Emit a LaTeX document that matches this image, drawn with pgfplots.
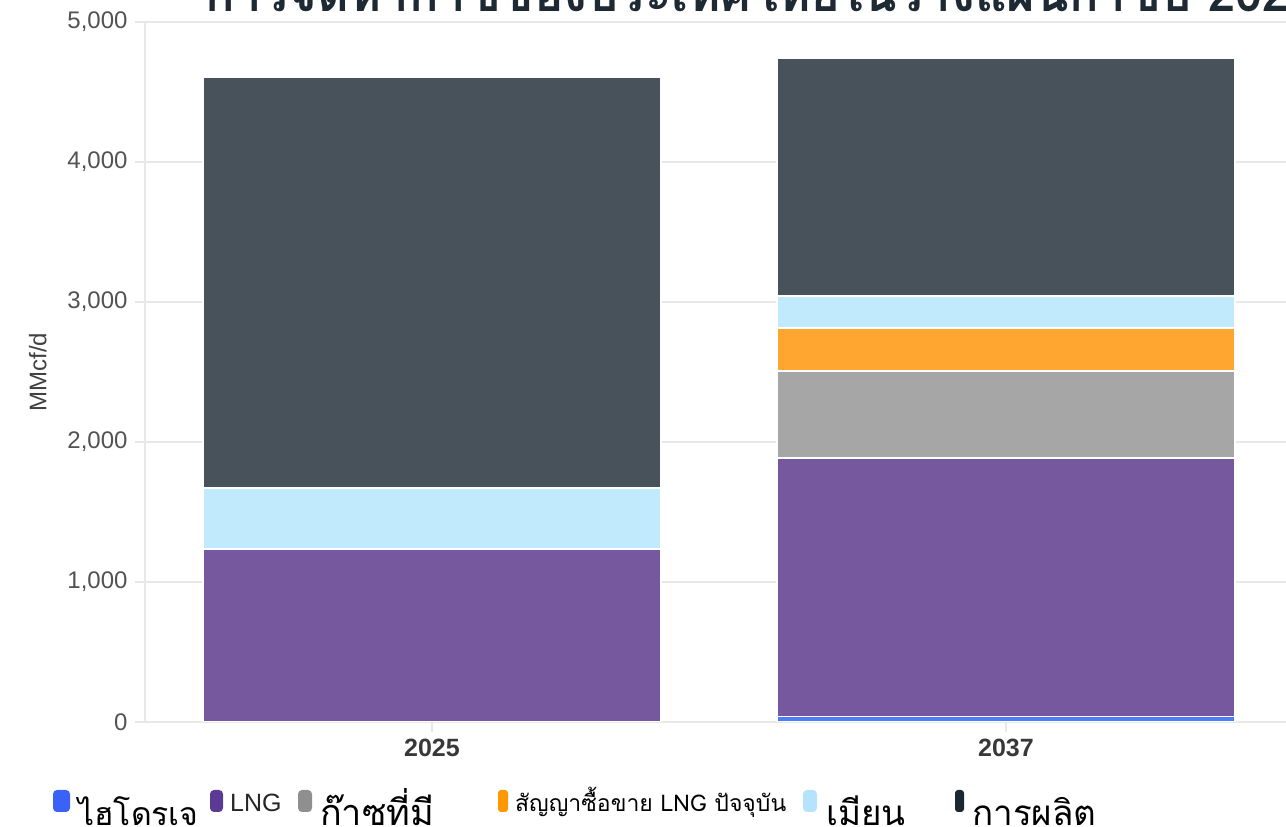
\documentclass[border=0pt]{standalone}
\usepackage{pgfplots}
\pgfplotsset{compat=1.18}
\usepackage{fontspec}
\setmainfont{Liberation Sans}
\newfontfamily\thaifont[Script=Thai]{Loma}
\definecolor{cprod}{HTML}{48525B}
\definecolor{cmya}{HTML}{C2EAFD}
\definecolor{clng}{HTML}{76589F}
\definecolor{cgas}{HTML}{A6A6A6}
\definecolor{ccon}{HTML}{FFA630}
\definecolor{chyd}{HTML}{4D7EF7}
\definecolor{lhyd}{HTML}{3B62F6}
\definecolor{llng}{HTML}{5B3A94}
\definecolor{lgas}{HTML}{8F8F8F}
\definecolor{lcon}{HTML}{FF9800}
\definecolor{lmya}{HTML}{B5E3FB}
\definecolor{lprod}{HTML}{1C2831}
\definecolor{gridc}{HTML}{E8E8E8}
\definecolor{titlec}{HTML}{1E2A33}
\begin{document}
\begin{tikzpicture}[x=1pt,y=1pt]
\useasboundingbox (0,0) rectangle (1286,827);
\begin{axis}[
  at={(145pt,105pt)}, anchor=south west,
  scale only axis, width=1148pt, height=700pt,
  xmin=-0.5, xmax=1.5, ymin=0, ymax=5000,
  ybar stacked, bar width=458pt,
  axis x line*=bottom, axis y line*=left,
  axis line style={draw=gridc, line width=1.5pt},
  ymajorgrids, grid style={draw=gridc, line width=1.5pt},
  ytick={0,1000,2000,3000,4000,5000},
  xtick={0,1}, xticklabels={2025,2037},
  tick align=outside, major tick length=10pt,
  tick style={draw=gridc, line width=1.2pt},
  yticklabel style={font=\fontsize{24}{24}\selectfont, text=black!68, xshift=-4pt},
  xticklabel style={font=\fontsize{25}{25}\selectfont\bfseries, text=black!78, yshift=-4pt},
  /pgf/number format/.cd, 1000 sep={,}, assume math mode=true, /pgfplots/.cd,
  ylabel={MMcf/d}, ylabel shift=14pt,
  ylabel style={font=\fontsize{24}{24}\selectfont, text=black!75},
  every axis plot/.append style={draw=white, line width=1.5pt},
]
\addplot[fill=chyd] coordinates {(0,0) (1,40)};
\addplot[fill=clng] coordinates {(0,1236) (1,1846)};
\addplot[fill=cgas] coordinates {(0,0) (1,621)};
\addplot[fill=ccon] coordinates {(0,0) (1,307)};
\addplot[fill=cmya] coordinates {(0,435) (1,229)};
\addplot[fill=cprod] coordinates {(0,2936) (1,1700)};
\end{axis}
% title (cut by the page top)
\node[anchor=base west, inner sep=0pt, text=titlec, font=\thaifont\bfseries\fontsize{49}{49}\selectfont] at (205,815) {การจัดหาก๊าซของประเทศไทยในร่างแผนก๊าซปี 2025};
% legend
\fill[lhyd, rounded corners=4pt] (53,15) rectangle (70,37);
\node[anchor=base west, inner sep=0pt, font=\thaifont\fontsize{32}{32}\selectfont] at (78,1) {ไฮโดรเจ};
\fill[llng, rounded corners=4pt] (210,15) rectangle (223,37);
\node[anchor=base west, inner sep=0pt, font=\fontsize{25}{25}\selectfont, text=black!85] at (230,15) {LNG};
\fill[lgas, rounded corners=4pt] (298,15) rectangle (312,37);
\node[anchor=base west, inner sep=0pt, font=\thaifont\fontsize{36}{36}\selectfont] at (320,1) {ก๊าซที่มี};
\fill[lcon, rounded corners=3pt] (498,15) rectangle (508,37);
\node[anchor=base west, inner sep=0pt, font=\thaifont\fontsize{23}{23}\selectfont] at (515,15) {สัญญาซื้อขาย LNG ปัจจุบัน};
\fill[lmya, rounded corners=4pt] (803,15) rectangle (817,37);
\node[anchor=base west, inner sep=0pt, font=\thaifont\fontsize{35}{35}\selectfont] at (826,1) {เมียน};
\fill[lprod, rounded corners=3pt] (955,15) rectangle (964,37);
\node[anchor=base west, inner sep=0pt, font=\thaifont\fontsize{35}{35}\selectfont] at (972,1) {การผลิต};
\end{tikzpicture}
\end{document}
